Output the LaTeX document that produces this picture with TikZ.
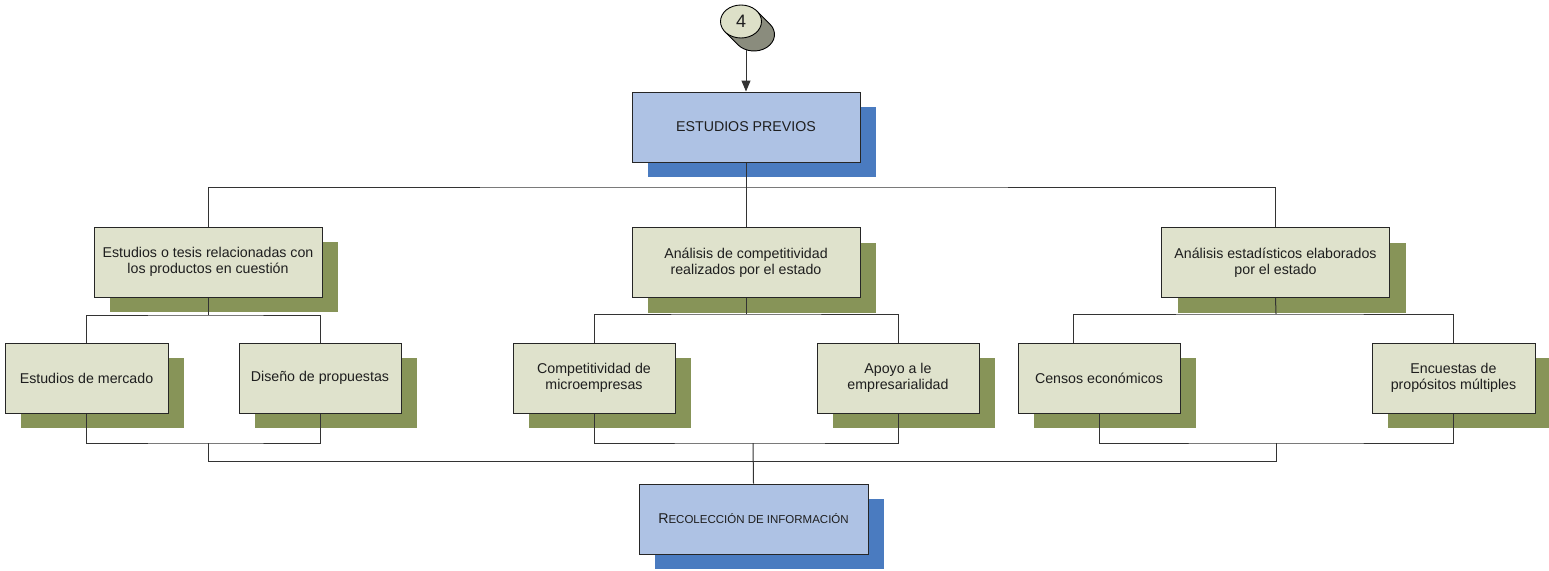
\documentclass[tikz,border=0pt]{standalone}
\usepackage{fontspec}
\setmainfont{Liberation Sans}
\usetikzlibrary{shapes.geometric,shadows,arrows.meta}

\definecolor{gfill}{HTML}{DFE2CC}
\definecolor{gshade}{HTML}{879458}
\definecolor{bfill}{HTML}{AEC2E4}
\definecolor{bshade}{HTML}{4A7BC0}
\definecolor{cfront}{HTML}{DDE0C8}
\definecolor{cback}{HTML}{8A8C7D}
\definecolor{ink}{HTML}{1E1E1E}
\definecolor{wire}{HTML}{333333}

\newcommand{\fakesc}[2]{#1{\fontsize{11.5}{13}\selectfont #2}}

\begin{document}
\begin{tikzpicture}[x=1pt,y=-1pt,
  basebox/.style={draw=black!85, line width=1pt, text=ink, align=center,
    inner sep=2pt, font=\fontsize{14.2}{16.5}\selectfont},
  gbox/.style={basebox, fill=gfill,
    drop shadow={shadow xshift=16pt, shadow yshift=-15pt, fill=gshade, opacity=1}},
  bbox/.style={basebox, fill=bfill,
    drop shadow={shadow xshift=16pt, shadow yshift=-15pt, fill=bshade, opacity=1}},
  bigbox/.style={minimum width=228pt, minimum height=70pt},
  smallbox/.style={minimum width=162pt, minimum height=70pt},
  wire/.style={draw=wire, line width=1pt},
]
\path[use as bounding box, fill=white] (0,0) rectangle (1549,570);

% connector badge: dark body swept behind the light front face
\filldraw[fill=cback, draw=black, line width=0.9pt]
  (756.97,11.16) -- ++(13,13)
  arc[start angle=-38.8, end angle=141.2, x radius=20.5, y radius=16.5]
  -- ++(-13,-13) -- cycle;
\node[ellipse, draw=black, line width=0.9pt, fill=cfront, inner sep=0pt,
  minimum width=41pt, minimum height=33pt, text=ink,
  font=\fontsize{18}{18}\selectfont] (c4) at (741,21.5) {4};
\coordinate (c4b) at (746,50);

% top level
\node[bbox, bigbox] (ep) at (746,127) {ESTUDIOS PREVIOS};

% second level
\node[gbox, bigbox] (a) at (208,262) {Estudios o tesis relacionadas con\\los productos en cuestión};
\node[gbox, bigbox] (b) at (746,262.5) {Análisis de competitividad\\realizados por el estado};
\node[gbox, bigbox] (c) at (1275.5,262.5) {Análisis estadísticos elaborados\\por el estado};

% third level
\node[gbox, smallbox, minimum width=163pt] (l1) at (86.5,378) {Estudios de mercado};
\node[gbox, smallbox] (l2) at (320,378) {Diseño de propuestas};
\node[gbox, smallbox] (m1) at (594,378) {Competitividad de\\microempresas};
\node[gbox, smallbox] (m2) at (898,378) {Apoyo a le\\empresarialidad};
\node[gbox, smallbox] (r1) at (1099,378) {Censos económicos};
\node[gbox, smallbox, minimum width=163pt] (r2) at (1453.5,378) {Encuestas de\\propósitos múltiples};

% result
\node[bbox, bigbox, minimum width=229pt, minimum height=70pt] (rec) at (753.5,519)
  {\fakesc{R}{ECOLECCIÓN DE INFORMACIÓN}};

% junction points
\coordinate (t0) at (746,187);
\coordinate (ta) at (208,315);
\coordinate (tb) at (746,314);
\coordinate (tc) at (1276,314);
\coordinate (r1t) at (1073,343);
\coordinate (ba) at (208,443);
\coordinate (bb) at (753,443);
\coordinate (bc) at (1276,443);
\coordinate (bl) at (208,461);
\coordinate (br) at (1276,461);

% arrow into the first step
\draw[wire, -{Triangle[width=9pt,length=11pt]}] (c4b) -- (ep.north);

% branching downwards
\draw[wire] (ep.south) -- (b.north);
\draw[wire] (a.north) |- (t0) -| (c.north);
\draw[wire] (a.south) -- (ta);
\draw[wire] (l1.north) |- (ta) -| (l2.north);
\draw[wire] (b.south) -- (tb);
\draw[wire] (m1.north) |- (tb) -| (m2.north);
\draw[wire] (c.south) -- (tc);
\draw[wire] (r1t) |- (tc) -| (r2.north);

% merging towards the result
\draw[wire] (l1.south) |- (ba) -| (l2.south);
\draw[wire] (m1.south) |- (bb) -| (m2.south);
\draw[wire] (r1.south) |- (bc) -| (r2.south);
\draw[wire] (ba) -- (bl) -- (br) -- (bc);
\draw[wire] (bb) -- (rec.north);
\end{tikzpicture}
\end{document}
